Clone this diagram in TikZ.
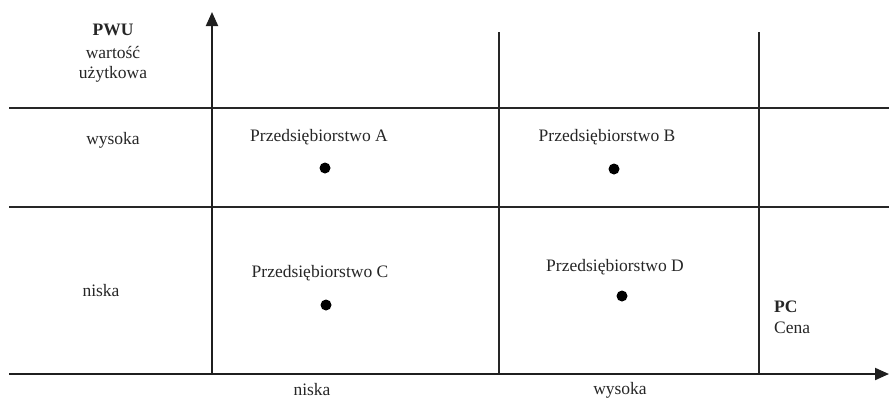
\documentclass[tikz,border=0pt]{standalone}
\usepackage{fontspec}
\setmainfont{Liberation Serif}
\usetikzlibrary{arrows.meta}
\begin{document}
\begin{tikzpicture}[x=1pt,y=-1pt,
  axis/.style={line width=2pt,draw=black!88,-{Triangle[length=14pt,width=12pt]}},
  grid/.style={line width=1.3pt,draw=black!85},
  lbl/.style={font=\fontsize{17.5}{20}\selectfont,text=black!85,inner sep=0pt},
  dotmark/.style={circle,fill=black,inner sep=0pt,minimum size=11pt}]
\useasboundingbox (0,0) rectangle (889,400);
% frame of the matrix
\coordinate (xs) at (9,374);
\coordinate (xe) at (889,374);
\coordinate (ys) at (212,374);
\coordinate (ye) at (212,12);
\coordinate (h1s) at (9,108);
\coordinate (h1e) at (889,108);
\coordinate (h2s) at (9,207);
\coordinate (h2e) at (889,207);
\coordinate (v1s) at (499,32);
\coordinate (v1e) at (499,374);
\coordinate (v2s) at (759,32);
\coordinate (v2e) at (759,374);
\draw[grid] (h1s) -- (h1e);
\draw[grid] (h2s) -- (h2e);
\draw[grid] (v1s) -- (v1e);
\draw[grid] (v2s) -- (v2e);
\draw[axis] (xs) -- (xe);
\draw[axis] (ys) -- (ye);
% axis titles
\node[lbl,font=\fontsize{17.5}{20}\selectfont\bfseries] (pwu) at (113,30) {PWU};
\node[lbl] (wart) at (113,52) {wartość};
\node[lbl] (uzyt) at (113,74) {użytkowa};
\node[lbl,anchor=west] (pc) at (774,307) {\bfseries PC};
\node[lbl,anchor=west] (cena) at (774,328) {Cena};
% row and column labels
\node[lbl] (wys) at (113,140) {wysoka};
\node[lbl] (nis) at (101,291) {niska};
\node[lbl] (cnis) at (312,390) {niska};
\node[lbl] (cwys) at (620,390) {wysoka};
% companies
\node[lbl] (pA) at (319,137) {Przedsiębiorstwo A};
\node[dotmark] (dA) at (325,168) {};
\node[lbl] (pB) at (607,137) {Przedsiębiorstwo B};
\node[dotmark] (dB) at (614,169) {};
\node[lbl] (pC) at (320,273) {Przedsiębiorstwo C};
\node[dotmark] (dC) at (326,305) {};
\node[lbl] (pD) at (615,267) {Przedsiębiorstwo D};
\node[dotmark] (dD) at (622,296) {};
\end{tikzpicture}
\end{document}
